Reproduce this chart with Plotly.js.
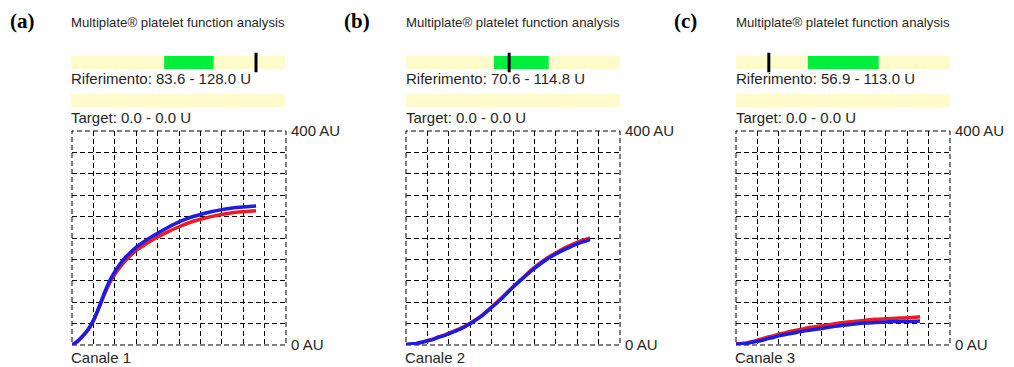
<!DOCTYPE html>
<html>
<head>
<meta charset="utf-8">
<script src="https://cdn.plot.ly/plotly-3.0.1.min.js"></script>
<style>html,body{margin:0;padding:0;background:#fff;}#chart{width:1014px;height:367px;}</style>
</head>
<body>
<div id="chart"></div>
<script>
// ---------- data ----------
const panelLabels = ['(a)', '(b)', '(c)'];
const panelTitle = 'Multiplate\u00AE platelet function analysis';
const channelNames = ['Canale 1', 'Canale 2', 'Canale 3'];
const refLow = [83.6, 70.6, 56.9];
const refHigh = [128.0, 114.8, 113.0];
const targetLow = [0.0, 0.0, 0.0];
const targetHigh = [0.0, 0.0, 0.0];
const measuredU = [166, 83, 26];

const timeDiv = [0, 0.25, 0.5, 0.75, 1, 1.25, 1.5, 1.75, 2, 2.25, 2.5, 2.75, 3, 3.5, 4, 4.5, 5, 5.5, 6, 6.5, 7, 7.5, 8, 8.6];

const aBlue = [0, 7, 17, 29, 46, 70, 96, 119, 137, 152, 164, 174, 183, 197, 209, 220, 230, 238, 244, 249, 253, 256, 258, 260];
const aRed  = [0, 6, 16, 28, 45, 68, 93, 115, 132, 146, 158, 168, 177, 190, 202, 212, 221, 229, 235, 240, 244, 247, 249, 251];
const bBlue = [1, 2, 3, 5, 8, 10, 14, 17, 21, 25, 29, 34, 40, 53, 70, 88, 108, 126, 143, 158, 170, 180, 189, 197];
const bRed  = [1, 2, 3, 5, 8, 11, 15, 18, 22, 26, 30, 35, 41, 54, 71, 89, 109, 127, 145, 160, 172, 183, 192, 200];
const cBlue = [2, 2, 3, 5, 7, 9, 12, 14, 17, 19, 21, 23, 25, 28, 31, 34, 37, 39, 41, 42, 43, 44, 44, 45];
const cRed  = [2, 3, 4, 6, 9, 12, 15, 17, 20, 22.5, 25, 27, 29, 33, 36, 39, 42, 44, 46, 48, 49, 50, 51, 53];

const redSeries = [aRed, bRed, cRed];
const blueSeries = [aBlue, bBlue, cBlue];

const yTickVals = [0, 40, 80, 120, 160, 200, 240, 280, 320, 360, 400];
const yTickText = ['0 AU', '', '', '', '', '', '', '', '', '', '400 AU'];
const xTickVals = [0, 1, 2, 3, 4, 5, 6, 7, 8, 9, 10];

// ---------- layout helpers ----------
const W = 1014, H = 367;
const px = v => v / W;
const py = v => 1 - v / H;
const plotLeft = [72, 406, 736];
const plotWidth = 214;
const plotTop = 131, plotBottom = 345;
const barLeft = [71, 406, 736];
const barWidth = 214;

const RED = 'rgb(236,28,36)';
const BLUE = 'rgb(28,28,228)';
const YELLOW = '#fffbcc';
const GREEN = '#00ee3c';
const TXT = '#262626';
const GRID = '#000000';
const DASH = '5px,3px';
const FONT = 'Liberation Sans, Arial, sans-serif';

const traces = [];
const layout = {
  width: W, height: H,
  margin: {l: 0, r: 0, t: 0, b: 0},
  paper_bgcolor: '#fff', plot_bgcolor: '#fff',
  showlegend: false, hovermode: false,
  barmode: 'overlay',
  annotations: [], shapes: []
};

for (let i = 0; i < 3; i++) {
  const n = i + 1;
  const xa = n === 1 ? 'x' : 'x' + n;
  const ya = n === 1 ? 'y' : 'y' + n;
  const xk = n === 1 ? 'xaxis' : 'xaxis' + n;
  const yk = n === 1 ? 'yaxis' : 'yaxis' + n;

  traces.push({type: 'scatter', mode: 'lines', x: timeDiv, y: redSeries[i], xaxis: xa, yaxis: ya,
    line: {color: RED, width: 3.5, shape: 'spline', smoothing: 0.8}});
  traces.push({type: 'scatter', mode: 'lines', x: timeDiv, y: blueSeries[i], xaxis: xa, yaxis: ya,
    line: {color: BLUE, width: 3.5, shape: 'spline', smoothing: 0.8}});

  const grid = {showgrid: true, gridcolor: GRID, gridwidth: 1, griddash: DASH, zeroline: false, showline: false, ticks: ''};
  layout[xk] = Object.assign({}, grid, {domain: [px(plotLeft[i]), px(plotLeft[i] + plotWidth)], range: [0, 10],
    tickmode: 'array', tickvals: xTickVals, showticklabels: false, anchor: ya, fixedrange: true});
  layout[yk] = Object.assign({}, grid, {domain: [py(plotBottom), py(plotTop)], range: [0, 400], side: 'right',
    tickmode: 'array', tickvals: yTickVals, ticktext: yTickText, anchor: xa, ticklabelstandoff: 4,
    tickfont: {family: FONT, size: 15, color: TXT}, fixedrange: true});

  // dashed frame of the plot area
  layout.shapes.push({type: 'rect', xref: xa + ' domain', yref: ya + ' domain', x0: 0, x1: 1, y0: 0, y1: 1,
    line: {color: GRID, width: 1, dash: DASH}, fillcolor: 'rgba(0,0,0,0)', layer: 'below'});

  // reference bars
  const bn = n + 3;
  const bxa = 'x' + bn, bya = 'y' + bn;
  const scaleMax = 1.5 * refHigh[i];
  layout['xaxis' + bn] = {domain: [px(barLeft[i]), px(barLeft[i] + barWidth)], range: [0, scaleMax], visible: false, anchor: bya, fixedrange: true};
  layout['yaxis' + bn] = {domain: [py(119.5), py(43.5)], type: 'category', categoryarray: ['Target', 'Riferimento'],
    range: [-0.5, 1.5], visible: false, anchor: bxa, fixedrange: true};
  traces.push({type: 'bar', orientation: 'h', y: ['Riferimento', 'Target'], x: [scaleMax, scaleMax], base: [0, 0],
    width: 0.342, marker: {color: YELLOW, line: {width: 0}}, xaxis: bxa, yaxis: bya});
  traces.push({type: 'bar', orientation: 'h', y: ['Riferimento', 'Target'],
    x: [refHigh[i] - refLow[i], targetHigh[i] - targetLow[i]], base: [refLow[i], targetLow[i]],
    width: 0.342, marker: {color: GREEN, line: {width: 0}}, xaxis: bxa, yaxis: bya});
  traces.push({type: 'scatter', mode: 'markers', x: [measuredU[i]], y: ['Riferimento'], xaxis: bxa, yaxis: bya,
    marker: {symbol: 'line-ns', size: 14, color: '#000', line: {width: 3, color: '#000'}}});

  // texts
  const ann = (x, y, text, font) => layout.annotations.push({xref: 'paper', yref: 'paper', x: px(x), y: py(y),
    xanchor: 'left', yanchor: 'middle', showarrow: false, text: text, font: font, borderpad: 0});
  ann(barLeft[i] - 1, 22, panelTitle, {family: FONT, size: 13.2, color: TXT});
  ann(barLeft[i] - 1, 78, 'Riferimento: ' + refLow[i].toFixed(1) + ' - ' + refHigh[i].toFixed(1) + ' U', {family: FONT, size: 15, color: TXT});
  ann(barLeft[i] - 1, 118, 'Target: ' + targetLow[i].toFixed(1) + ' - ' + targetHigh[i].toFixed(1) + ' U', {family: FONT, size: 15, color: TXT});
  ann(plotLeft[i] - 2, 357, channelNames[i], {family: FONT, size: 15, color: TXT});
  ann(plotLeft[i] - 63, 21, '<b>' + panelLabels[i] + '</b>', {family: 'Liberation Serif, DejaVu Serif, serif', size: 21, color: '#000'});
}

Plotly.newPlot('chart', traces, layout, {staticPlot: true, displayModeBar: false});
</script>
</body>
</html>
